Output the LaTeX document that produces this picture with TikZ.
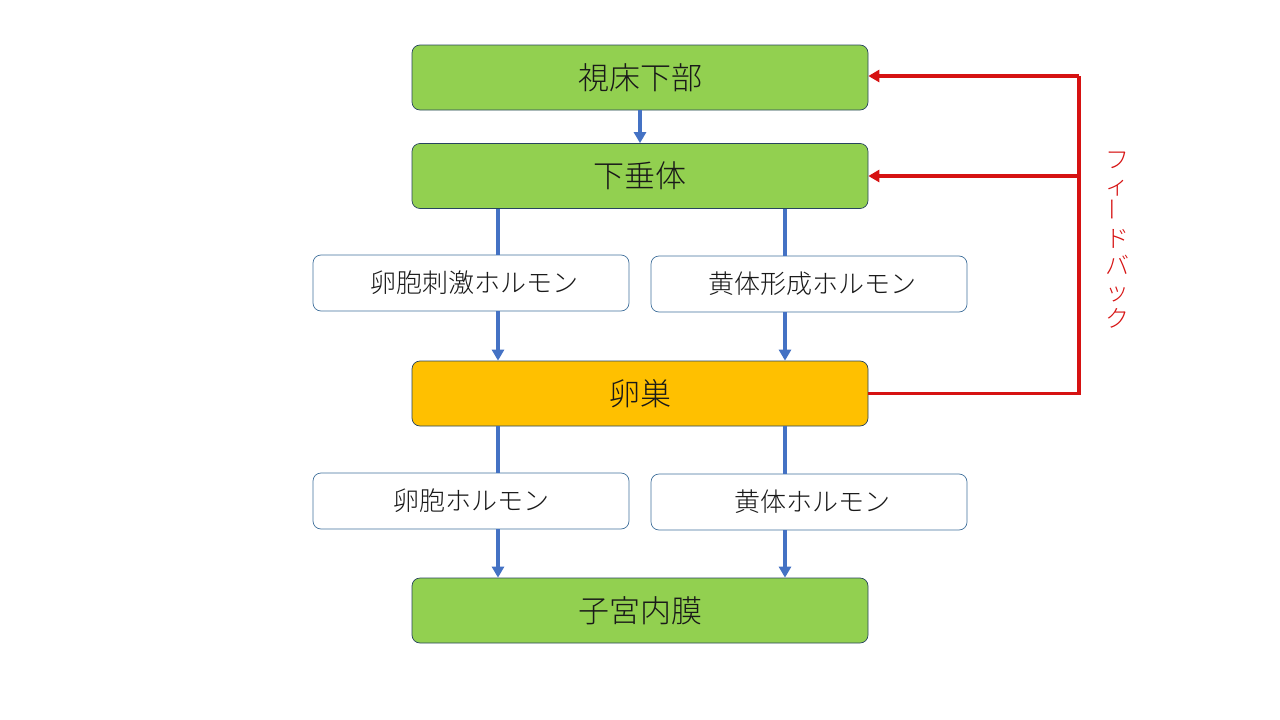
\documentclass[tikz,border=0pt]{standalone}
\usepackage{fontspec}
\usepackage{graphicx}
\setmainfont{Noto Sans CJK JP}[UprightFont=* Light]
\usetikzlibrary{arrows.meta}
\definecolor{boxgreen}{RGB}{146,208,80}
\definecolor{boxorange}{RGB}{255,192,0}
\definecolor{edgeblue}{RGB}{65,113,156}
\definecolor{arrowblue}{RGB}{68,114,196}
\definecolor{fbred}{RGB}{214,18,18}
\tikzset{
  mainbox/.style={draw=edgeblue!60!black, line width=0.7pt, rounded corners=8pt,
    minimum width=456pt, minimum height=65pt, inner sep=0pt,
    font=\fontsize{31}{34}\selectfont, text=black!90},
  hormbox/.style={draw=edgeblue, line width=0.7pt, fill=white, rounded corners=8pt,
    minimum width=316pt, minimum height=56pt, inner sep=0pt,
    font=\fontsize{26}{30}\selectfont, text=black!90},
  blueline/.style={draw=arrowblue, line width=3.2pt},
  bluearrow/.style={blueline, -{Triangle[length=11pt,width=12pt]}},
  redline/.style={draw=fbred, line width=3.2pt},
  redarrow/.style={redline, -{Triangle[length=11pt,width=12pt]}},
}
\begin{document}
\begin{tikzpicture}[x=1pt,y=-1pt]
\useasboundingbox (0,0) rectangle (1280,720);
\node[mainbox, fill=boxgreen] (hyp) at (640,77.5) {視床下部};
\node[mainbox, fill=boxgreen] (pit) at (640,176) {下垂体};
\node[hormbox] (fsh) at (471,283) {\hspace{7pt}卵胞刺激ホルモン};
\node[hormbox] (lh) at (809,284) {\hspace{7pt}黄体形成ホルモン};
\node[mainbox, fill=boxorange] (ov) at (640,393.5) {卵巣};
\node[hormbox] (est) at (471,501) {卵胞ホルモン};
\node[hormbox] (prog) at (809,502) {\hspace{7pt}黄体ホルモン};
\node[mainbox, fill=boxgreen] (endo) at (640,610.5) {子宮内膜};
\coordinate (xl) at (498,0);
\coordinate (xr) at (785,0);
\coordinate (fb) at (1079,0);
% blue connectors
\draw[bluearrow] (hyp.south) -- (pit.north);
\draw[blueline] (pit.south -| xl) -- (fsh.north -| xl);
\draw[blueline] (pit.south -| xr) -- (lh.north -| xr);
\draw[bluearrow] (fsh.south -| xl) -- (ov.north -| xl);
\draw[bluearrow] (lh.south -| xr) -- (ov.north -| xr);
\draw[blueline] (ov.south -| xl) -- (est.north -| xl);
\draw[blueline] (ov.south -| xr) -- (prog.north -| xr);
\draw[bluearrow] (est.south -| xl) -- (endo.north -| xl);
\draw[bluearrow] (prog.south -| xr) -- (endo.north -| xr);
% feedback
\draw[redline, line join=miter] (ov.east) -- (ov.east -| fb) -- ([yshift=1.5pt]hyp.east -| fb);
\draw[redarrow] ([yshift=1.5pt]hyp.east -| fb) -- ([yshift=1.5pt]hyp.east);
\draw[redarrow] (pit.east -| fb) -- (pit.east);
\node[text=fbred, font=\fontsize{24}{26.5}\selectfont, align=center, inner sep=0pt] (fbtext) at (1117,240)
  {フ\\ィ\\\rotatebox{90}{ー}\\ド\\バ\\ッ\\ク};
\end{tikzpicture}
\end{document}
